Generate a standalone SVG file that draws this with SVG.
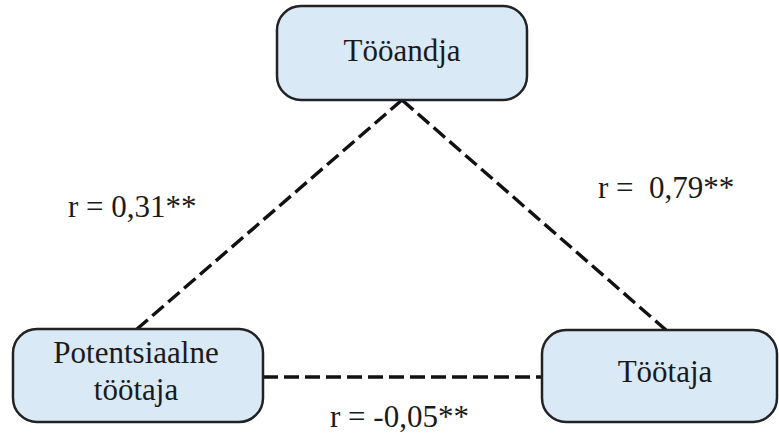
<svg xmlns="http://www.w3.org/2000/svg" width="779" height="434" viewBox="0 0 779 434">
  <rect width="779" height="434" fill="#ffffff"/>

  <!-- dashed correlation links -->
  <g id="connectors" stroke="#111" stroke-width="3.4" stroke-dasharray="15 6" fill="none">
    <line x1="402" y1="100" x2="137" y2="329"/>
    <line x1="402" y1="100" x2="666" y2="330"/>
    <line x1="263" y1="377" x2="542" y2="377"/>
  </g>

  <g id="labels" fill="#1a1a1a">
    <text style="font-family:'Liberation Serif','Times New Roman',serif !important;font-size:31px" x="68" y="217">r = 0,31**</text>
    <text style="font-family:'Liberation Serif','Times New Roman',serif !important;font-size:31px" x="598" y="198" xml:space="preserve">r =  0,79**</text>
    <text style="font-family:'Liberation Serif','Times New Roman',serif !important;font-size:31px" x="330" y="427">r = -0,05**</text>
  </g>

  <g id="tooandja">
    <rect x="277" y="6" width="250" height="94" rx="24" fill="#dae9f6" stroke="#222" stroke-width="2.5"/>
    <text style="font-family:'Liberation Serif','Times New Roman',serif !important;font-size:31px" fill="#1a1a1a" text-anchor="middle" x="402" y="61">Tööandja</text>
  </g>

  <g id="potentsiaalne-tootaja">
    <rect x="13" y="329" width="250" height="93" rx="24" fill="#dae9f6" stroke="#222" stroke-width="2.5"/>
    <text style="font-family:'Liberation Serif','Times New Roman',serif !important;font-size:31px" fill="#1a1a1a" text-anchor="middle" x="136" y="363">Potentsiaalne</text>
    <text style="font-family:'Liberation Serif','Times New Roman',serif !important;font-size:31px" fill="#1a1a1a" text-anchor="middle" x="136" y="400">töötaja</text>
  </g>

  <g id="tootaja">
    <rect x="542" y="330" width="235" height="92" rx="24" fill="#dae9f6" stroke="#222" stroke-width="2.5"/>
    <text style="font-family:'Liberation Serif','Times New Roman',serif !important;font-size:31px" fill="#1a1a1a" text-anchor="middle" x="665" y="382">Töötaja</text>
  </g>
</svg>
